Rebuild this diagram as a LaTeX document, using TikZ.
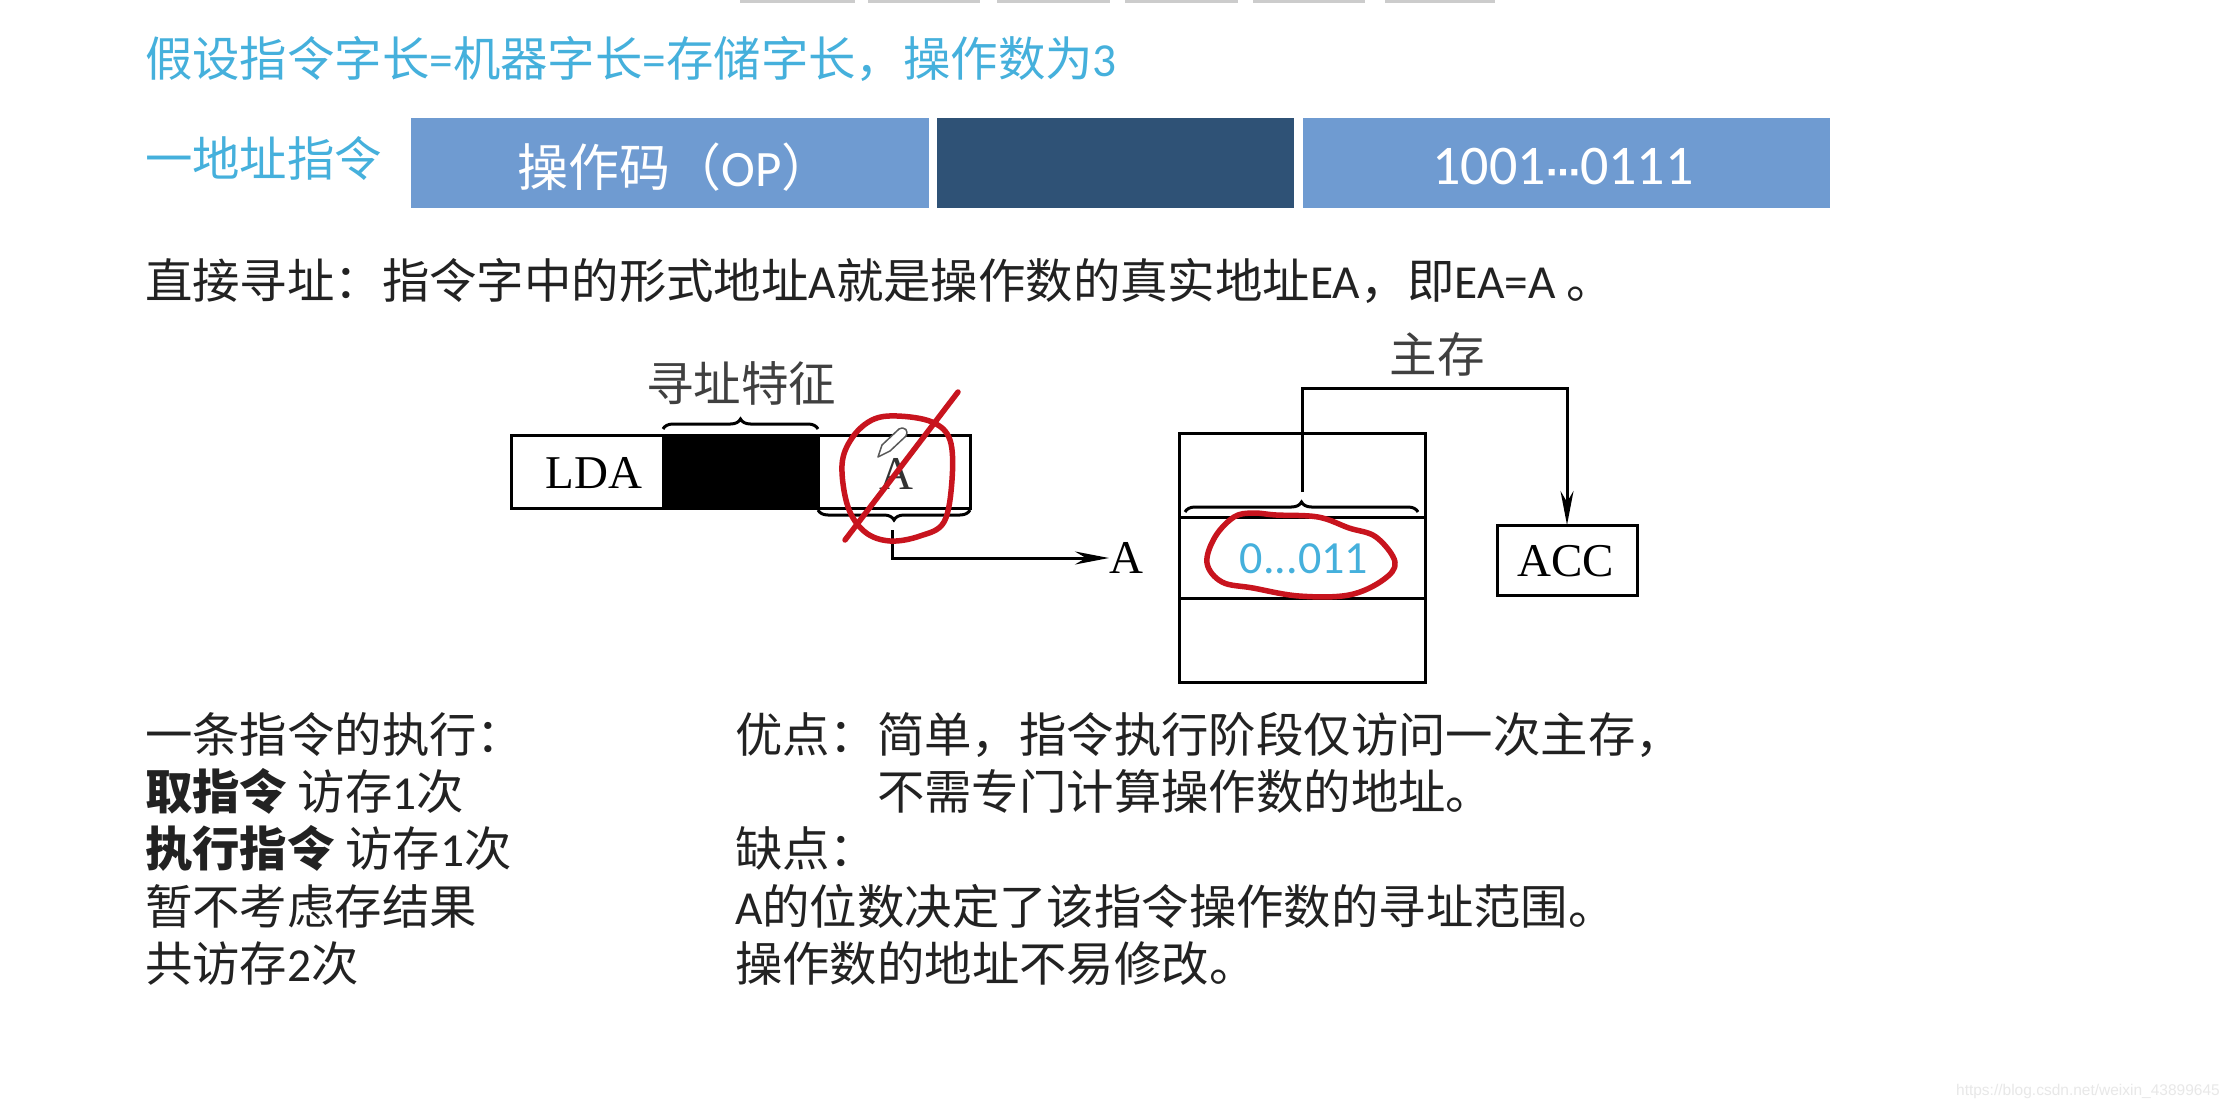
\documentclass[tikz,border=0pt]{standalone}
\usepackage{fontspec}
\setmainfont{Noto Sans CJK SC}
\newfontfamily\lat{Carlito}
\newfontfamily\tms{Liberation Serif}
\newfontfamily\djv{DejaVu Sans}
\newfontfamily\ars{Liberation Sans}
\usetikzlibrary{arrows.meta,decorations.pathreplacing,calc}
\definecolor{tealblue}{HTML}{45B0DC}
\definecolor{barlight}{HTML}{6F9BD1}
\definecolor{bardark}{HTML}{2F5276}
\definecolor{inkred}{HTML}{C8141E}
\definecolor{bodyink}{HTML}{222222}
\newcommand{\fs}[1]{\fontsize{#1}{#1}\selectfont}
\tikzset{
  x=1pt,y=-1pt,
  line/.style={line width=3pt,draw=black},
  txt/.style={anchor=base west,inner sep=0pt,outer sep=0pt,text=bodyink,font=\fs{47.4}},
  head/.style={txt,text=tealblue},
  bar/.style={anchor=north west,inner sep=0pt,outer sep=0pt,minimum height=90pt,text=white,font=\fs{44}},
  cell/.style={draw=black,line width=3pt,anchor=north west,inner sep=0pt,outer sep=0pt,fill=white},
  serif/.style={inner sep=0pt,outer sep=0pt,text=black,font=\tms\fs{47}},
  cjkcap/.style={inner sep=0pt,outer sep=0pt,text=black!75,font=\fs{47.5}},
  bracedown/.style={line,decorate,decoration={brace,amplitude=10pt,aspect=0.5}},
  pen/.style={draw=inkred,line width=5.5pt,line cap=round,line join=round},
  tip/.style={-{Stealth[length=34pt,width=13pt]}},
}
\begin{document}
\begin{tikzpicture}
\useasboundingbox (0,0) rectangle (2230,1108);
\fill[white] (0,0) rectangle (2230,1108);
% window tabs at the top edge
\foreach \a/\b in {740/855,868/980,997/1110,1125/1238,1253/1365,1385/1495}
  \fill[black!20] (\a,0) rectangle (\b,3);
% heading
\node[head] (title) at (145,77) {假设指令字长{\lat =}机器字长{\lat =}存储字长，操作数为{\lat 3}};
\node[head] (kind) at (145,176) {一地址指令};
% instruction format bar
\node[bar,fill=barlight,minimum width=518pt] (op) at (411,118) {};
\node[bar,fill=bardark,minimum width=357pt] (mode) at (937,118) {};
\node[bar,fill=barlight,minimum width=527pt] (addr) at (1303,118) {};
\node[text=white,font=\fs{51},inner sep=0pt] (optext) at (675,167) {操作码（{\lat OP}）};
\node[text=white,font=\lat\fs{56},inner sep=0pt] (addrtext) at (1563,167) {1001{\djv\bfseries\fs{34}⋯}0111};
% definition
\node[txt] (def) at (145,298) {直接寻址：指令字中的形式地址{\lat A}就是操作数的真实地址{\lat EA}，即{\lat EA=A} 。};
% instruction register
\node[cell,minimum width=152pt,minimum height=73pt] (lda) at (511,435) {};
\node[cell,fill=black,minimum width=155pt,minimum height=73pt] (feat) at (663,435) {};
\node[cell,minimum width=152pt,minimum height=73pt] (fa) at (818,435) {};
\node[serif] (ldatext) at (594,473) {LDA};
\node[serif,text=black!80] (atext) at (896,474) {A};
\node[cjkcap] (feattext) at (741,383) {寻址特征};
\coordinate (fl) at (663,429);
\coordinate (fr) at (818,429);
\draw[bracedown] (fl) -- (fr);
\coordinate (al) at (818,510);
\coordinate (ar) at (970,510);
\coordinate (amid) at (892,530);
\draw[line,decorate,decoration={brace,amplitude=10pt,mirror}] (al) -- (ar);
\node[serif,anchor=west] (alabel) at (1109,558) {A};
\draw[line,tip] (amid) |- (alabel.west);
% memory
\node[cell,minimum width=246pt,minimum height=84pt] (m1) at (1179,433) {};
\node[cell,minimum width=246pt,minimum height=81pt] (m2) at (1179,517) {};
\node[cell,minimum width=246pt,minimum height=84pt] (m3) at (1179,598) {};
\node[text=tealblue,font=\lat\fs{46},inner sep=0pt] (val) at (1304,559) {0...011};
\node[cell,minimum width=140pt,minimum height=70pt] (acc) at (1497,525) {};
\node[serif] (acctext) at (1566,561) {ACC};
\node[cjkcap] (memtext) at (1437,354) {主存};
\coordinate (ml) at (1185,512);
\coordinate (mr) at (1418,512);
\coordinate (mtip) at (1302,492);
\coordinate (mup) at (1302,388);
\draw[bracedown] (ml) -- (mr);
\draw[line,tip] (mtip) -- (mup) -| (acc.north);
% annotations in red
\draw[pen] plot[smooth cycle,tension=0.6] coordinates {(897,416) (932,422) (950,440) (952,480) (944,522) (920,536) (890,541) (865,532) (848,507) (842,465) (852,438) (872,420)};
\draw[pen] (958,392) -- (845,540);
\draw[pen] plot[smooth cycle,tension=0.6] coordinates {(1253,513) (1276,515) (1318,517) (1349,528) (1376,537) (1395,562) (1383,580) (1349,595) (1299,596) (1253,588) (1222,582) (1207,563) (1215,537) (1234,517)};
% pencil cursor
\draw[black!65,line width=1.5pt,fill=white,line join=round] (878,457) -- (882,445) -- (899,429) .. controls (905,426) and (909,431) .. (906,436) -- (890,451) -- cycle;
% left column
\node[txt] (l1) at (145,752) {一条指令的执行：};
\node[txt] (l2) at (145,809) {\textbf{取指令} 访存{\lat 1}次};
\node[txt] (l3) at (145,866) {\textbf{执行指令} 访存{\lat 1}次};
\node[txt] (l4) at (145,924) {暂不考虑存结果};
\node[txt] (l5) at (145,981) {共访存{\lat 2}次};
% right column
\node[txt] (r1) at (735,752) {优点：};
\node[txt] (r1b) at (877,752) {简单，指令执行阶段仅访问一次主存，};
\node[txt] (r2) at (877,809) {不需专门计算操作数的地址。};
\node[txt] (r3) at (735,866) {缺点：};
\node[txt] (r4) at (735,924) {{\lat A}的位数决定了该指令操作数的寻址范围。};
\node[txt] (r5) at (735,981) {操作数的地址不易修改。};
% watermark
\node[anchor=base east,inner sep=0pt,text=black!9,font=\ars\fs{15.5}] (wm) at (2220,1095) {https://blog.csdn.net/weixin\_43899645};
\end{tikzpicture}
\end{document}
